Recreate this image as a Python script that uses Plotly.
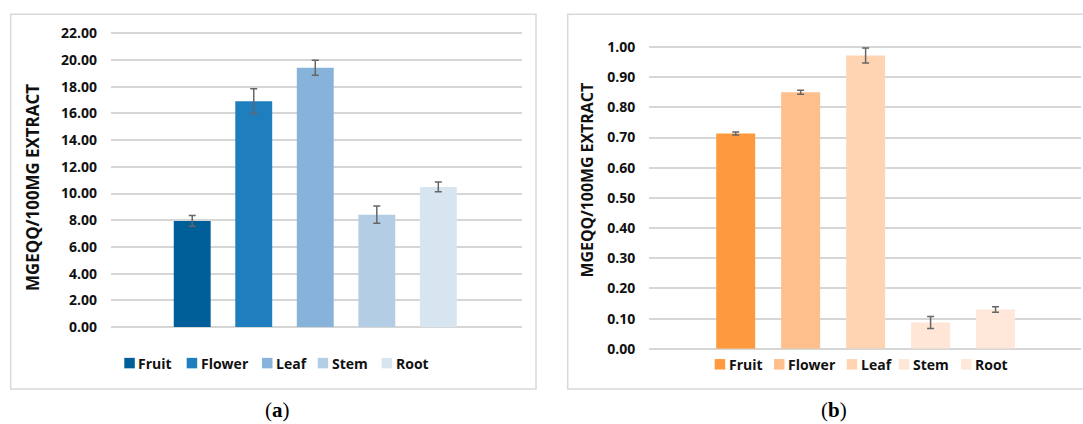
import plotly.graph_objects as go

W = 1083
FIG_H = 433          # figure height in page pixels
PAGE_TOP = 7.0       # where the figure's top edge lands in the final 424-px picture
PAGE_SCALE = 0.9636  # vertical page-to-picture factor

parts = ["Fruit", "Flower", "Leaf", "Stem", "Root"]

# (a) panel: mean content and standard deviation per plant part
values_a = [7.95, 16.92, 19.42, 8.42, 10.50]
errors_a = [0.40, 0.92, 0.57, 0.65, 0.36]
colors_a = ["#005F98", "#1F7EBD", "#87B2DA", "#B3CEE4", "#D7E5F1"]

# (b) panel
values_b = [0.713, 0.850, 0.972, 0.087, 0.130]
errors_b = [0.005, 0.007, 0.025, 0.020, 0.009]
colors_b = ["#FF993D", "#FFBF8C", "#FFD4B3", "#FFE6D6", "#FFE7D9"]

y_title = "MGEQQ/100MG EXTRACT"
panel_labels = ["(<b>a</b>)", "(<b>b</b>)"]

SANS = "Open Sans, Liberation Sans, Arial"
TICK_FONT = dict(family=SANS, size=14, color="#111111", weight="bold")
GRID = "#D6D6D6"
ERR = "#666666"


def px_x(x):
    return x / W


def px_y(y):
    """Picture row -> paper fraction."""
    return 1 - ((y - PAGE_TOP) / PAGE_SCALE) / FIG_H


fig = go.Figure()

panels = [
    dict(vals=values_a, errs=errors_a, cols=colors_a, xa="x", ya="y"),
    dict(vals=values_b, errs=errors_b, cols=colors_b, xa="x2", ya="y2"),
]
for p in panels:
    for name, v, e, c in zip(parts, p["vals"], p["errs"], p["cols"]):
        fig.add_trace(go.Bar(
            x=[name], y=[v], name=name, width=0.6,
            marker=dict(color=c, line=dict(width=0)),
            error_y=dict(type="data", array=[e], visible=True,
                         color=ERR, thickness=1.5, width=3.5),
            xaxis=p["xa"], yaxis=p["ya"], showlegend=False,
        ))

xcommon = dict(type="category", categoryorder="array", categoryarray=parts,
               showticklabels=False, showgrid=False, zeroline=False,
               showline=False, ticks="")
ycommon = dict(showgrid=True, gridcolor=GRID, gridwidth=1.5,
               zeroline=True, zerolinecolor=GRID, zerolinewidth=1.5,
               showline=False, ticks="", tickfont=TICK_FONT,
               tickformat=".2f", ticklabelstandoff=13)

fig.update_layout(
    width=W, height=FIG_H, autosize=False,
    margin=dict(l=0, r=0, t=0, b=0),
    paper_bgcolor="white", plot_bgcolor="white",
    barmode="overlay",
    xaxis=dict(domain=[px_x(111), px_x(522)], range=[-1.32, 5.36],
               anchor="y", **xcommon),
    yaxis=dict(domain=[px_y(327.3), px_y(30.63)], range=[0, 22.2],
               dtick=2, anchor="x", **ycommon),
    xaxis2=dict(domain=[px_x(649.3), px_x(1081.3)], range=[-1.33, 5.32],
                anchor="y2", **xcommon),
    yaxis2=dict(domain=[px_y(349), px_y(43.98)], range=[0, 1.01],
                dtick=0.1, anchor="x2", **ycommon),
)

shapes = []
annotations = []

# panel frames
for x0, x1 in [(10.7, 536), (567.7, 1100)]:
    shapes.append(dict(type="rect", xref="paper", yref="paper",
                       x0=px_x(x0), x1=px_x(x1), y0=px_y(389.3), y1=px_y(14.3),
                       line=dict(color="#D9D9D9", width=1.5),
                       fillcolor="rgba(0,0,0,0)", layer="below"))

# legends drawn under each panel
legend_a_text_x = [138.3, 200.7, 276.0, 331.7, 395.7]
legend_b_text_x = [728.7, 788.0, 860.7, 912.7, 975.0]
for text_xs, cols, yc in [(legend_a_text_x, colors_a, 363.3),
                          (legend_b_text_x, colors_b, 364.5)]:
    for name, tx, c in zip(parts, text_xs, cols):
        sx = tx - 14.0
        shapes.append(dict(type="rect", xref="paper", yref="paper",
                           x0=px_x(sx), x1=px_x(sx + 10.5),
                           y0=px_y(yc + 5.25), y1=px_y(yc - 5.25),
                           line=dict(width=0), fillcolor=c))
        annotations.append(dict(text=name, xref="paper", yref="paper",
                                x=px_x(tx), y=px_y(yc), xanchor="left", yanchor="middle",
                                showarrow=False, borderpad=0, borderwidth=0,
                                font=TICK_FONT))

# axis titles
for xc, yc, size in [(32.5, 187.5, 16.9), (587.0, 180.6, 15.9)]:
    annotations.append(dict(text="<b>%s</b>" % y_title, xref="paper", yref="paper",
                            x=px_x(xc), y=px_y(yc), xanchor="center", yanchor="middle",
                            textangle=-90, showarrow=False, borderpad=0, borderwidth=0,
                            font=dict(family=SANS, size=size, color="#111111")))

# panel captions
for lab, xc in zip(panel_labels, [277.0, 834.0]):
    annotations.append(dict(text=lab, xref="paper", yref="paper",
                            x=px_x(xc), y=px_y(410.0), xanchor="center", yanchor="middle",
                            showarrow=False, borderpad=0, borderwidth=0,
                            font=dict(family="Liberation Serif, DejaVu Serif, serif",
                                      size=21, color="#000000")))

fig.update_layout(shapes=shapes, annotations=annotations)
fig.write_html("out.html")
